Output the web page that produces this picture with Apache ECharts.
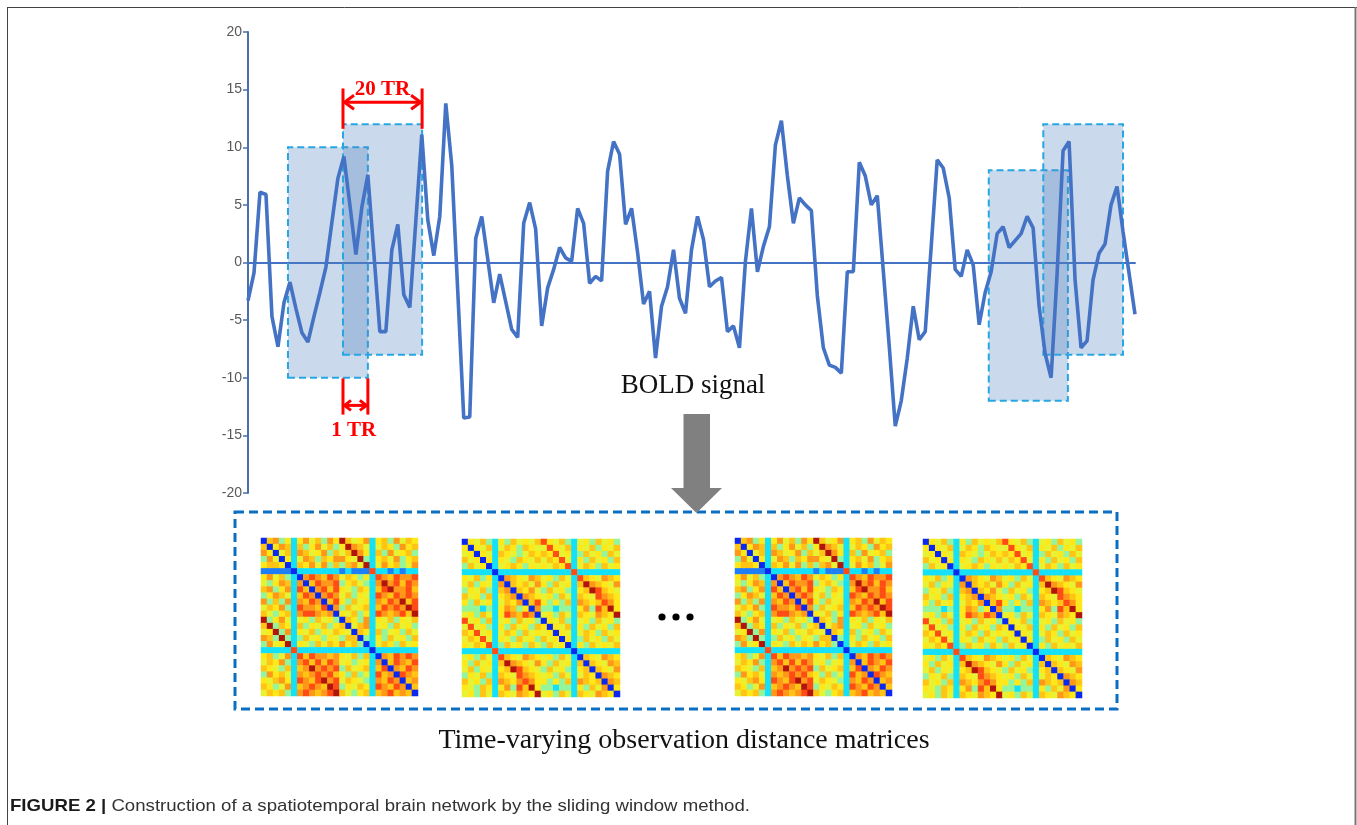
<!DOCTYPE html>
<html><head><meta charset="utf-8">
<script src="https://cdn.jsdelivr.net/npm/echarts@6/dist/echarts.min.js"></script>
<style>html,body{margin:0;padding:0;background:#fff}#c{width:1357px;height:825px}</style>
</head><body><div id="c"></div>
<script>
// ---------- DATA ----------
const boldSignal = [
 -3.3,-0.9,6.1,5.9,-4.7,-7.3,-3.5,-1.7,-4.0,-6.1,
 -6.9,-4.7,-2.6,-0.4,3.5,7.3,9.2,5.0,0.7,4.8,
 7.6,0.8,-6.0,-6.0,1.1,3.3,-2.8,-3.9,3.6,11.1,
 3.7,0.6,4.0,13.8,8.4,-2.5,-13.5,-13.4,2.1,4.0,
 0.3,-3.5,-1.0,-3.4,-5.8,-6.5,3.4,5.2,2.9,-5.5,
 -2.2,-0.6,1.3,0.4,0.1,4.7,3.4,-1.8,-1.2,-1.6,
 7.9,10.5,9.4,3.3,4.7,0.9,-3.6,-2.5,-8.3,-3.8,
 -2.1,1.1,-3.1,-4.4,1.1,4.0,2.0,-2.1,-1.6,-1.3,
 -6.0,-5.5,-7.4,0.1,4.7,-0.8,1.4,3.1,10.2,12.3,
 7.5,3.4,5.6,5.0,4.5,-2.9,-7.4,-8.9,-9.1,-9.6,
 -0.8,-0.8,8.7,7.5,5.0,5.8,-0.7,-7.3,-14.2,-12.0,
 -8.3,-3.8,-6.7,-6.0,1.4,8.9,8.2,5.6,-0.6,-1.2,
 1.1,-0.2,-5.4,-2.6,-0.8,2.5,3.1,1.3,1.9,2.5,
 4.0,3.0,-3.8,-7.9,-10.0,-1.0,9.7,10.5,-1.5,-7.4,
 -6.8,-1.5,0.8,1.6,5.0,6.6,2.7,-0.9,-4.5
];
// sliding windows: [startTR, endTR, low, high]
const windows = [
  [6.67, 20.0, -10, 10],
  [15.85, 29.05, -8, 12],
  [123.6, 136.8, -12, 8],
  [132.7, 146.0, -8, 12]
];
const yMin = -20, yMax = 20, yStep = 5;
const span20Label = '20 TR';
const span1Label = '1 TR';
// distance matrices (26x26), digit = level 0..9 (blocks separated by spaces)
const matrixA = [
 "06735 2 5746375 96457 2 5637465",
 "60576 2 6357463 59764 2 4653756",
 "75046 2 7645736 46975 2 6374563",
 "37405 2 4763657 75493 2 5647356",
 "56650 2 6574736 36749 2 4756347",
 "11111 0 2222222 12111 8 2212122",
 "57463 2 0787687 46535 2 8768778",
 "43576 2 7068778 35643 2 7978687",
 "67357 2 8607868 54365 2 6897786",
 "35764 2 6870787 46354 2 8768787",
 "73637 2 7687068 53645 2 7687968",
 "46573 2 8776807 36456 2 6878798",
 "64356 2 7887670 54635 2 8767869",
 "93574 2 4536453 06537 2 5463546",
 "69365 2 6354635 60467 2 4536453",
 "45937 2 5463546 54065 2 6345364",
 "76393 2 3645354 36603 2 5364536",
 "37459 2 5436465 75630 2 4653645",
 "22222 8 2222222 22222 0 2222222",
 "56347 2 8687767 54636 2 0768787",
 "46573 2 7868687 45345 2 7068768",
 "65436 2 6797878 36456 2 6807687",
 "37564 2 7678786 53634 2 8670876",
 "54675 2 8768978 46543 2 7687067",
 "65347 2 6787698 35465 2 8768706",
 "46563 2 7876789 64356 2 6786760"
];
const matrixB = [
 "05463 2 5364546 85463 2 4536453",
 "50546 2 4653654 48546 2 5463546",
 "45054 2 6543465 65845 2 3645364",
 "64505 2 5436546 46584 2 5364536",
 "36450 2 4565354 54658 2 4653645",
 "22222 0 2222222 22222 8 2222222",
 "54635 2 0765476 45364 2 8654765",
 "46354 2 7065647 53645 2 6976547",
 "35463 2 6706574 36453 2 5698654",
 "64536 2 5670765 45364 2 6548765",
 "53645 2 4657068 53536 2 7656875",
 "33323 2 5763507 33233 2 5738695",
 "45364 2 5876870 45364 2 6547659",
 "84536 2 4536453 05463 2 4536453",
 "48453 2 5364536 50546 2 5364536",
 "65845 2 4653645 45054 2 4653645",
 "46584 2 5436453 64505 2 3645364",
 "54658 2 3645364 36450 2 5364546",
 "22222 8 2222222 22222 0 2222222",
 "45364 2 8654765 45364 2 0654765",
 "53645 2 6976547 53645 2 6065476",
 "46354 2 5698654 36453 2 5606547",
 "35463 2 6548765 45364 2 4650765",
 "64536 2 7657875 53536 2 7656076",
 "54365 2 5738695 33233 2 5364705",
 "45364 2 6547659 45364 2 6547650"
];
const matrixSequence = [matrixA, matrixB, matrixA, matrixB];
const jetColors = ['#0a28f0','#1e7ef5','#14e1f7','#94f59c','#e6f232','#ffe81a','#ffc414','#ff9818','#ff4c14','#b0140a'];

// ---------- CHART ----------
const chart = echarts.init(document.getElementById('c'), null, {renderer:'canvas'});
const lineData = boldSignal.map((v,i)=>[i,v]);
const N = boldSignal.length - 1;

const heatGrids = [
  {left:261, top:538, width:157, height:158},
  {left:462, top:539, width:158, height:158},
  {left:735, top:538, width:157, height:158},
  {left:923, top:539, width:159, height:159}
];
const idx = Array.from({length:26},(_, i)=>i);
function matrixToData(m){
  const out=[];
  m.forEach((row,r)=>{
    const s=row.replace(/ /g,'');
    for(let c=0;c<s.length;c++) out.push([c,r,+s[c]]);
  });
  return out;
}

const option = {
  animation:false,
  backgroundColor:'#fff',
  grid:[{left:248, top:32, width:887, height:461, containLabel:false}].concat(heatGrids),
  xAxis:[{type:'value', min:0, max:N, gridIndex:0,
          axisLine:{show:true, onZero:true, lineStyle:{color:'#4472c4', width:2}},
          axisTick:{show:false}, axisLabel:{show:false}, splitLine:{show:false}}]
        .concat(heatGrids.map((g,i)=>({type:'category', gridIndex:i+1, data:idx, show:false}))),
  yAxis:[{type:'value', min:yMin, max:yMax, interval:yStep, gridIndex:0,
          axisLine:{show:true, lineStyle:{color:'#4a6fae', width:2}},
          axisTick:{show:true, length:5, lineStyle:{color:'#4a6fae', width:1.5}},
          axisLabel:{color:'#595959', fontSize:14, fontFamily:'Liberation Sans', margin:6},
          splitLine:{show:false}}]
        .concat(heatGrids.map((g,i)=>({type:'category', gridIndex:i+1, data:idx, inverse:true, show:false}))),
  visualMap:{type:'continuous', show:false, min:0, max:9, seriesIndex:[1,2,3,4], inRange:{color:jetColors}},
  series:[
    {type:'line', xAxisIndex:0, yAxisIndex:0, data:lineData, symbol:'none', z:3,
     lineStyle:{color:'#4472c4', width:3.6}, silent:true,
     markArea:{silent:true, label:{show:false},
       itemStyle:{color:'rgba(79,129,189,0.30)', borderColor:'#27a6e3', borderWidth:2, borderType:[7,4]},
       data: windows.map(w=>[{xAxis:w[0], yAxis:w[2]},{xAxis:w[1], yAxis:w[3]}])}
    }
  ].concat(matrixSequence.map((m,i)=>({type:'heatmap', xAxisIndex:i+1, yAxisIndex:i+1, data:matrixToData(m), silent:true,
       itemStyle:{borderWidth:0}})))
};
chart.setOption(option);

// ---------- ANNOTATIONS ----------
const P = (x,y)=>chart.convertToPixel({gridIndex:0},[x,y]);
const red = '#ff0000';
const G = [];
function vline(x, y1, y2){
  const a=P(x,y1), b=P(x,y2);
  G.push({type:'line', shape:{x1:a[0],y1:a[1],x2:b[0],y2:b[1]}, style:{stroke:red, lineWidth:3}, z:100});
}
function dblArrow(x1, x2, y, head, half){
  const a=P(x1,y), b=P(x2,y);
  G.push({type:'line', shape:{x1:a[0]+1,y1:a[1],x2:b[0]-1,y2:b[1]}, style:{stroke:red, lineWidth:3}, z:100});
  G.push({type:'polyline', shape:{points:[[a[0]+head,a[1]-half],[a[0]+1.5,a[1]],[a[0]+head,a[1]+half]]}, style:{stroke:red, lineWidth:3, fill:null}, z:100});
  G.push({type:'polyline', shape:{points:[[b[0]-head,b[1]-half],[b[0]-1.5,b[1]],[b[0]-head,b[1]+half]]}, style:{stroke:red, lineWidth:3, fill:null}, z:100});
}
function redText(txt, x, y){
  const a=P(x,y);
  G.push({type:'text', x:a[0], y:a[1], z:100, style:{text:txt, fill:red, font:'bold 21px "Liberation Serif"', textAlign:'center', textVerticalAlign:'middle'}});
}
// 20 TR : second window span
const w2s = windows[1][0], w2e = windows[1][1];
vline(w2s, 15.1, 11.6); vline(w2e, 15.1, 11.6);
dblArrow(w2s, w2e, 13.9, 11, 7);
redText(span20Label, (w2s+w2e)/2, 15.0);
// 1 TR : shift between window 1 and window 2
const s1 = windows[1][0], s2 = windows[0][1];
vline(s1, -10.05, -13.2); vline(s2, -10.05, -13.2);
dblArrow(s1, s2, -12.4, 8, 5);
redText(span1Label, (s1+s2)/2 - 0.3, -14.6);

// figure decorations
G.push({type:'text', x:693, y:386, style:{text:'BOLD signal', fill:'#111', font:'27px "Liberation Serif"', textAlign:'center', textVerticalAlign:'middle'}});
G.push({type:'polygon', shape:{points:[[683.5,414],[710,414],[710,488],[722,488],[696.5,513],[671,488],[683.5,488]]}, style:{fill:'#808080'}, z:50});
G.push({type:'rect', shape:{x:235, y:512, width:882, height:197}, style:{fill:null, stroke:'#0a6fc2', lineWidth:3, lineDash:[9,5]}, z:40});
[662,676,690].forEach(x=>G.push({type:'circle', shape:{cx:x, cy:617, r:3.6}, style:{fill:'#000'}}));
G.push({type:'text', x:684, y:741, style:{text:'Time-varying observation distance matrices', fill:'#111', font:'28px "Liberation Serif"', textAlign:'center', textVerticalAlign:'middle'}});
// frame
G.push({type:'line', shape:{x1:7,y1:7.5,x2:1357,y2:7.5}, style:{stroke:'#444', lineWidth:1}});
G.push({type:'line', shape:{x1:7.5,y1:7,x2:7.5,y2:825}, style:{stroke:'#444', lineWidth:1}});
G.push({type:'line', shape:{x1:1355.5,y1:7,x2:1355.5,y2:825}, style:{stroke:'#777', lineWidth:2}});
// caption (width fitted to reference)
const capBold = 'FIGURE 2 |', capRest = 'Construction of a spatiotemporal brain network by the sliding window method.';
const ctx = document.createElement('canvas').getContext('2d');
ctx.font = 'bold 17px "Liberation Sans"'; const wb = ctx.measureText(capBold + ' ').width;
ctx.font = '17px "Liberation Sans"'; const wr = ctx.measureText(capRest).width;
const sc = 740/(wb+wr);
G.push({type:'text', x:10, y:806, scaleX:sc, style:{text:capBold, fill:'#1a1a1a', font:'bold 17px "Liberation Sans"', textVerticalAlign:'middle'}});
G.push({type:'text', x:10+wb*sc, y:806, scaleX:sc, style:{text:capRest, fill:'#333', font:'17px "Liberation Sans"', textVerticalAlign:'middle'}});

chart.setOption({graphic:{elements:G}});
</script></body></html>
